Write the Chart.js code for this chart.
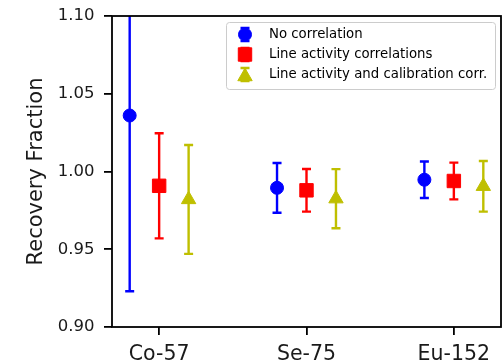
<!DOCTYPE html>
<html><head><meta charset="utf-8">
<script src="https://cdn.jsdelivr.net/npm/chart.js@4"></script>
<style>html,body{margin:0;padding:0;background:#fff;} #wrap{width:502px;height:364px;}</style>
</head><body><div id="wrap"><canvas id="c" width="502" height="364"></canvas></div>
<script>
const categories = ['Co-57', 'Se-75', 'Eu-152'];
const seriesNames = ['No correlation', 'Line activity correlations', 'Line activity and calibration corr.'];
const noCorrelation = [1.036, 0.9895, 0.9947];
const noCorrelationErr = [0.113, 0.016, 0.0117];
const lineActivity = [0.9908, 0.9879, 0.9939];
const lineActivityErr = [0.0338, 0.0137, 0.0118];
const lineActCalib = [0.982, 0.9825, 0.9905];
const lineActCalibErr = [0.035, 0.019, 0.0163];
const yTickValues = [0.90, 0.95, 1.00, 1.05, 1.10];

const FONT = "'DejaVu Sans', sans-serif";
const styles = [
  {color: '#0000ff', pointStyle: 'circle', radius: 6.5, offset: -0.2},
  {color: '#ff0000', pointStyle: 'rect', radius: 9.5, offset: 0},
  {color: '#bfbf00', pointStyle: 'triangle', radius: 8.3, offset: 0.2}
];
const values = [noCorrelation, lineActivity, lineActCalib];
const errors = [noCorrelationErr, lineActivityErr, lineActCalibErr];

const datasets = seriesNames.map((name, s) => ({
  label: name,
  data: categories.map((c, i) => ({x: i + styles[s].offset, y: values[s][i], err: errors[s][i]})),
  backgroundColor: styles[s].color,
  borderColor: styles[s].color,
  borderWidth: 1,
  pointStyle: styles[s].pointStyle,
  pointRadius: styles[s].radius,
  showLine: false
}));

const CAP = 4.5, ELW = 2.4;

const errorBars = {
  id: 'errorBars',
  beforeDatasetsDraw(chart) {
    const {ctx, chartArea: a, scales: {x, y}} = chart;
    ctx.save();
    ctx.beginPath(); ctx.rect(a.left, a.top, a.right - a.left, a.bottom - a.top); ctx.clip();
    chart.data.datasets.forEach(ds => {
      ctx.strokeStyle = ds.borderColor; ctx.lineWidth = ELW;
      ds.data.forEach(p => {
        const px = x.getPixelForValue(p.x);
        const y1 = y.getPixelForValue(p.y + p.err), y2 = y.getPixelForValue(p.y - p.err);
        ctx.beginPath();
        ctx.moveTo(px, y1); ctx.lineTo(px, y2);
        ctx.moveTo(px - CAP, y1); ctx.lineTo(px + CAP, y1);
        ctx.moveTo(px - CAP, y2); ctx.lineTo(px + CAP, y2);
        ctx.stroke();
      });
    });
    ctx.restore();
  },
  afterDatasetsDraw(chart) {
    const {ctx, chartArea: a} = chart;
    ctx.save();
    ctx.strokeStyle = '#000'; ctx.lineWidth = 1.8;
    ctx.strokeRect(a.left, a.top, a.right - a.left, a.bottom - a.top);
    ctx.restore();
  }
};

const boxLegend = {
  id: 'boxLegend',
  afterDraw(chart) {
    const {ctx, chartArea: a} = chart;
    const w = 269, h = 67;
    const bx = a.right - 6 - w, by = a.top + 6;
    ctx.save();
    ctx.fillStyle = 'rgba(255,255,255,0.8)';
    ctx.strokeStyle = '#cccccc'; ctx.lineWidth = 1;
    ctx.beginPath();
    ctx.roundRect(bx + 0.5, by + 0.5, w, h, 3);
    ctx.fill(); ctx.stroke();
    ctx.font = '13.3px ' + FONT;
    ctx.textBaseline = 'middle'; ctx.textAlign = 'left';
    chart.data.datasets.forEach((ds, i) => {
      const cy = by + 12.5 + i * 20;
      const cx = bx + 19;
      ctx.strokeStyle = ds.borderColor; ctx.lineWidth = ELW;
      ctx.beginPath();
      ctx.moveTo(cx, cy - 6.5); ctx.lineTo(cx, cy + 6.5);
      ctx.moveTo(cx - CAP, cy - 6.5); ctx.lineTo(cx + CAP, cy - 6.5);
      ctx.moveTo(cx - CAP, cy + 6.5); ctx.lineTo(cx + CAP, cy + 6.5);
      ctx.stroke();
      ctx.fillStyle = ds.backgroundColor; ctx.strokeStyle = ds.borderColor; ctx.lineWidth = 1;
      const dy = ds.pointStyle === 'triangle' ? ds.pointRadius / 4 : 0;
      Chart.helpers.drawPoint(ctx, {pointStyle: ds.pointStyle, radius: ds.pointRadius, rotation: 0, borderWidth: 1}, cx, cy + dy);
      ctx.fillStyle = '#000';
      ctx.fillText(ds.label, bx + 43, cy + 0.5);
    });
    ctx.restore();
  }
};

new Chart(document.getElementById('c'), {
  type: 'scatter',
  data: {datasets},
  plugins: [errorBars, boxLegend],
  options: {
    responsive: false,
    animation: false,
    events: [],
    devicePixelRatio: 1,
    layout: {autoPadding: false, padding: {top: 16, right: 1, left: 0, bottom: 0}},
    plugins: {legend: {display: false}, tooltip: {enabled: false}},
    scales: {
      x: {
        type: 'linear', min: -0.32, max: 2.32,
        afterBuildTicks: sc => { sc.ticks = categories.map((c, i) => ({value: i})); },
        afterFit: sc => { sc.height = 37; sc.paddingLeft = 0; sc.paddingRight = 0; },
        ticks: {
          callback: v => categories[v] ?? '',
          font: {family: FONT, size: 20.5}, color: '#1a1a1a', padding: 7, maxRotation: 0, autoSkip: false
        },
        grid: {drawOnChartArea: false, drawTicks: true, tickLength: 8, tickColor: '#000', lineWidth: 1.8},
        border: {display: false}
      },
      y: {
        type: 'linear', min: 0.9, max: 1.1,
        afterBuildTicks: sc => { sc.ticks = yTickValues.map(v => ({value: v})); },
        afterFit: sc => { sc.width = 112; sc.paddingTop = 0; sc.paddingBottom = 0; },
        ticks: {
          callback: v => v.toFixed(2),
          font: {family: FONT, size: 16.5}, color: '#1a1a1a', padding: 9.5
        },
        grid: {drawOnChartArea: false, drawTicks: true, tickLength: 8, tickColor: '#000', lineWidth: 1.8},
        border: {display: false},
        title: {display: true, text: 'Recovery Fraction', font: {family: FONT, size: 21}, color: '#1a1a1a', padding: {top: 24, bottom: 0}}
      }
    }
  }
});
</script></body></html>
